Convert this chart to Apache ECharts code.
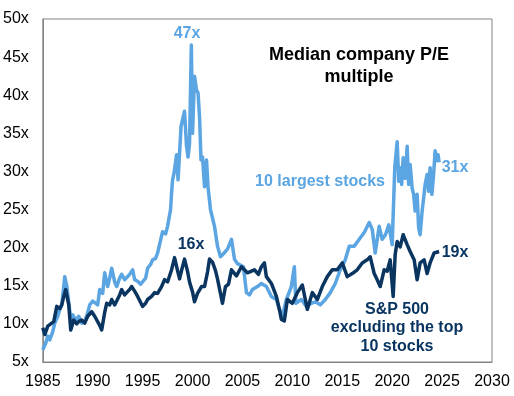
<!DOCTYPE html>
<html lang="en">
<head>
    <meta charset="UTF-8">
    <title>Median company P/E multiple</title>
    <script src="https://cdn.jsdelivr.net/npm/echarts@6.0.0/dist/echarts.min.js"></script>
    <style>
        html, body { margin: 0; padding: 0; background: #fff; }
        #chart { width: 514px; height: 396px; }
    </style>
</head>
<body>
    <div id="chart"></div>
    <script>
        // values: [year, P/E]
        var largest10 = [
            [1985.0, 6.6], [1985.3, 7.5], [1985.5, 8.4], [1985.7, 7.9], [1986.0, 9.0], [1986.2, 10.1], [1986.5, 11.0],
            [1986.7, 11.9], [1986.9, 12.5], [1987.2, 16.2], [1987.4, 15.0], [1987.6, 14.9], [1987.8, 10.6],
            [1988.0, 11.2], [1988.3, 10.5], [1988.6, 11.0], [1988.9, 10.1], [1989.2, 10.3], [1989.5, 11.5],
            [1989.7, 12.5], [1990.0, 13.0], [1990.2, 13.2], [1990.5, 12.5], [1990.7, 14.5], [1991.0, 14.0],
            [1991.2, 16.7], [1991.5, 14.9], [1991.7, 16.0], [1991.9, 17.3], [1992.2, 15.5], [1992.4, 14.9],
            [1992.7, 16.0], [1992.9, 16.5], [1993.2, 15.8], [1993.4, 16.0], [1993.7, 16.5], [1994.0, 17.1],
            [1994.2, 15.8], [1994.5, 15.6], [1994.8, 15.2], [1995.0, 15.4], [1995.3, 16.0], [1995.5, 17.3],
            [1995.8, 17.8], [1996.0, 18.4], [1996.3, 18.6], [1996.5, 19.3], [1996.8, 21.0], [1997.0, 22.1],
            [1997.3, 21.8], [1997.5, 22.8], [1997.8, 25.0], [1997.9, 27.2], [1998.0, 28.9], [1998.15, 29.8],
            [1998.4, 32.2], [1998.55, 28.9], [1998.7, 32.4], [1998.85, 35.9], [1999.0, 36.8], [1999.2, 37.9],
            [1999.4, 33.3], [1999.55, 31.9], [1999.7, 33.7], [1999.88, 46.6], [2000.0, 35.0], [2000.2, 42.5],
            [2000.4, 40.7], [2000.55, 40.3], [2000.7, 37.2], [2000.85, 31.5], [2001.0, 31.9], [2001.2, 28.0],
            [2001.4, 31.5], [2001.55, 28.0], [2001.8, 25.0], [2002.2, 22.8],
            [2002.5, 20.2], [2002.8, 18.8], [2003.1, 19.2], [2003.5, 19.8], [2003.9, 21.1], [2004.2, 18.5],
            [2004.5, 17.9], [2005.1, 17.5], [2005.4, 14.1], [2005.7, 13.8], [2006.0, 14.5], [2006.5, 14.9],
            [2006.9, 15.3], [2007.4, 14.9], [2007.9, 13.6], [2008.4, 13.2], [2008.7, 11.9], [2009.0, 11.0],
            [2009.4, 13.2], [2009.9, 14.9], [2010.2, 17.5], [2010.35, 12.7], [2010.9, 13.2], [2011.4, 12.3],
            [2011.9, 12.7], [2012.3, 12.9], [2012.8, 12.5], [2013.3, 13.2], [2013.8, 14.1], [2014.3, 15.3],
            [2014.8, 17.1], [2015.3, 18.4], [2015.7, 20.2], [2016.2, 20.2], [2016.7, 21.1], [2017.2, 22.0],
            [2017.7, 23.3], [2018.0, 22.4], [2018.3, 19.3], [2018.7, 22.8], [2019.0, 21.1], [2019.33, 21.7],
            [2019.66, 23.0], [2020.0, 20.4], [2020.26, 30.5], [2020.5, 33.9], [2020.66, 28.7], [2020.8, 30.5],
            [2020.95, 28.3], [2021.1, 31.8], [2021.3, 29.1], [2021.5, 33.3], [2021.65, 28.3], [2021.8, 30.9],
            [2022.0, 27.8], [2022.15, 27.0], [2022.3, 24.8], [2022.5, 27.0], [2022.65, 22.6], [2022.8, 21.7],
            [2023.0, 24.8], [2023.15, 26.5], [2023.3, 28.3], [2023.5, 29.6], [2023.65, 27.4], [2023.8, 30.5],
            [2023.98, 27.0], [2024.15, 29.6], [2024.3, 32.7], [2024.5, 31.4], [2024.6, 32.2], [2024.7, 31.2]
        ];
        var sp500ex10 = [
            [1985.0, 9.5], [1985.2, 8.6], [1985.5, 9.7], [1985.8, 10.0], [1986.1, 10.3], [1986.4, 12.3],
            [1986.7, 12.0], [1986.9, 12.5], [1987.1, 13.6], [1987.3, 14.5], [1987.6, 12.5], [1987.8, 9.2],
            [1988.1, 10.5], [1988.4, 10.0], [1988.6, 10.3], [1988.9, 10.5], [1989.2, 10.1], [1989.5, 11.0],
            [1989.9, 11.6], [1990.2, 11.0], [1990.4, 11.2], [1990.7, 9.8], [1990.9, 9.2], [1991.2, 11.5],
            [1991.4, 12.7], [1991.7, 12.5], [1991.9, 13.2], [1992.2, 12.5], [1992.4, 13.0], [1992.7, 13.8],
            [1992.9, 14.5], [1993.2, 13.8], [1993.4, 14.1], [1993.7, 14.5], [1993.9, 14.9], [1994.2, 14.3],
            [1994.5, 13.6], [1994.8, 12.8], [1995.0, 12.3], [1995.3, 12.7], [1995.5, 13.2], [1995.9, 13.6],
            [1996.2, 14.1], [1996.5, 14.0], [1996.9, 14.9], [1997.2, 15.8], [1997.5, 15.5], [1997.9, 17.1],
            [1998.2, 18.7], [1998.5, 17.0], [1998.7, 15.9], [1998.9, 17.0], [1999.2, 18.5], [1999.5, 16.9],
            [1999.7, 15.5], [2000.0, 14.2], [2000.2, 12.9], [2000.5, 14.0], [2000.9, 14.9], [2001.2, 14.9],
            [2001.5, 16.8], [2001.7, 18.5], [2002.0, 18.1], [2002.3, 17.0], [2002.5, 15.9], [2002.8, 14.0],
            [2003.0, 12.7], [2003.3, 14.9], [2003.6, 15.2], [2003.9, 17.1], [2004.4, 16.3], [2004.9, 17.5],
            [2005.5, 16.7], [2006.2, 17.1], [2006.6, 16.5], [2006.9, 17.5], [2007.2, 18.0], [2007.4, 16.2],
            [2007.9, 15.3], [2008.4, 13.6], [2008.7, 11.9], [2008.9, 10.6], [2009.2, 10.4], [2009.5, 13.2],
            [2010.0, 12.7], [2010.5, 14.1], [2011.0, 15.1], [2011.5, 11.9], [2012.0, 14.1], [2012.5, 13.2],
            [2013.0, 14.9], [2013.5, 16.2], [2014.0, 17.1], [2014.5, 17.1], [2015.0, 18.0], [2015.5, 16.2],
            [2016.0, 16.6], [2016.5, 17.1], [2017.0, 18.0], [2017.5, 18.4], [2017.8, 18.8], [2018.2, 16.6],
            [2018.5, 15.8], [2018.8, 14.9], [2019.2, 17.1], [2019.5, 16.9], [2019.8, 18.4], [2020.1, 13.6],
            [2020.3, 19.1], [2020.5, 20.8], [2020.8, 20.1], [2021.1, 21.7], [2021.5, 20.4], [2021.8, 19.5],
            [2022.2, 18.4], [2022.5, 15.8], [2022.8, 18.0], [2023.2, 18.4], [2023.5, 16.6], [2023.8, 18.0],
            [2024.2, 19.3], [2024.7, 19.5]
        ];
        var yearTicks = [1985, 2030, 5];   // min, max, step
        var peTicks = [5, 50, 5];

        var lightBlue = '#5AA5E2';
        var navy = '#0A3560';
        var font = 'Arial, "Liberation Sans", sans-serif';

        var myChart = echarts.init(document.getElementById('chart'));

        var option = {
            animation: false,
            grid: {
                left: 41,
                right: 22,
                top: 19,
                bottom: 34,
                show: true,
                borderColor: '#858585',
                borderWidth: 1
            },
            xAxis: {
                type: 'value',
                min: yearTicks[0],
                max: yearTicks[1],
                interval: yearTicks[2],
                axisLine: { show: true, lineStyle: { color: '#858585' } },
                axisTick: { show: false },
                splitLine: { show: false },
                axisLabel: {
                    color: '#000', fontFamily: font, fontSize: 16, margin: 12,
                    formatter: function (v) { return String(v); }
                }
            },
            yAxis: {
                type: 'value',
                min: peTicks[0],
                max: peTicks[1],
                interval: peTicks[2],
                axisLine: { show: true, lineStyle: { color: '#858585' } },
                axisTick: { show: false },
                splitLine: { show: false },
                axisLabel: { color: '#000', fontFamily: font, fontSize: 16, margin: 14, formatter: '{value}x' }
            },
            series: [
                {
                    name: '10 largest stocks',
                    type: 'line',
                    data: largest10,
                    showSymbol: false,
                    lineStyle: { color: lightBlue, width: 3.5, join: 'round' },
                    itemStyle: { color: lightBlue },
                    z: 2
                },
                {
                    name: 'S&P 500 excluding the top 10 stocks',
                    type: 'line',
                    data: sp500ex10,
                    showSymbol: false,
                    lineStyle: { color: navy, width: 3.5, join: 'round' },
                    itemStyle: { color: navy },
                    z: 3
                }
            ],
            graphic: [
                {
                    type: 'text', x: 359, y: 44,
                    style: {
                        text: 'Median company P/E\nmultiple', fill: '#000', align: 'center', verticalAlign: 'top',
                        font: 'bold 18px ' + font, lineHeight: 22
                    }
                },
                { type: 'text', x: 187, y: 34, style: { text: '47x', fill: lightBlue, align: 'center', verticalAlign: 'middle', font: 'bold 16px ' + font } },
                { type: 'text', x: 191, y: 245, style: { text: '16x', fill: navy, align: 'center', verticalAlign: 'middle', font: 'bold 16px ' + font } },
                { type: 'text', x: 320, y: 182, style: { text: '10 largest stocks', fill: lightBlue, align: 'center', verticalAlign: 'middle', font: 'bold 16px ' + font } },
                { type: 'text', x: 455, y: 168, style: { text: '31x', fill: lightBlue, align: 'center', verticalAlign: 'middle', font: 'bold 16px ' + font } },
                { type: 'text', x: 455, y: 253, style: { text: '19x', fill: navy, align: 'center', verticalAlign: 'middle', font: 'bold 16px ' + font } },
                {
                    type: 'text', x: 397, y: 328,
                    style: {
                        text: 'S&P 500\nexcluding the top\n10 stocks', fill: navy, align: 'center', verticalAlign: 'middle',
                        font: 'bold 16px ' + font, lineHeight: 18.5
                    }
                }
            ]
        };
        myChart.setOption(option);
    </script>
</body>
</html>
